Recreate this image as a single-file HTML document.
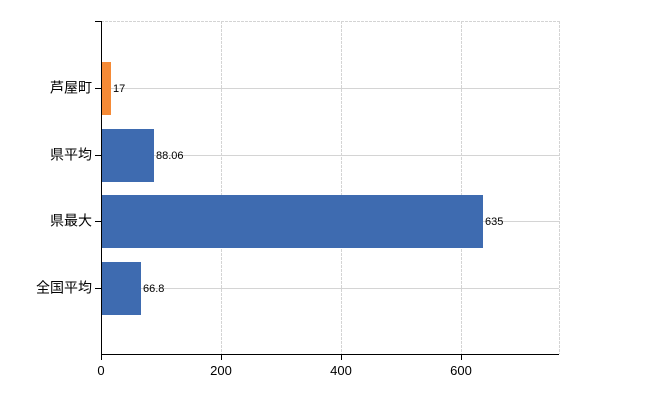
<!DOCTYPE html><html><head><style>body{margin:0;background:#fff}svg{font-family:"Liberation Sans","Noto Sans CJK JP",sans-serif}</style></head><body>
<svg width="650" height="400" xmlns="http://www.w3.org/2000/svg">
<g stroke="#d4d4d4" stroke-width="1">
<line x1="101" y1="21.5" x2="559" y2="21.5" stroke-dasharray="3,1"/>
<line x1="101" y1="88.5" x2="559" y2="88.5"/>
<line x1="101" y1="155.5" x2="559" y2="155.5"/>
<line x1="101" y1="221.5" x2="559" y2="221.5"/>
<line x1="101" y1="288.5" x2="559" y2="288.5"/>
<line x1="221.5" y1="21" x2="221.5" y2="354" stroke-dasharray="3,1"/>
<line x1="341.5" y1="21" x2="341.5" y2="354" stroke-dasharray="3,1"/>
<line x1="461.5" y1="21" x2="461.5" y2="354" stroke-dasharray="3,1"/>
<line x1="559.5" y1="21" x2="559.5" y2="354" stroke-dasharray="3,1"/>
</g>
<rect x="101" y="62" width="10" height="53" fill="#f58a36"/>
<rect x="101" y="129" width="53" height="53" fill="#3e6bb0"/>
<rect x="101" y="195" width="382" height="53" fill="#3e6bb0"/>
<rect x="101" y="262" width="40" height="53" fill="#3e6bb0"/>
<g font-size="11" fill="#000" dominant-baseline="middle">
<text x="113" y="89">17</text>
<text x="156" y="156">88.06</text>
<text x="485" y="222">635</text>
<text x="143" y="289">66.8</text>
</g>
<g stroke="#000" stroke-width="1">
<line x1="101.5" y1="21" x2="101.5" y2="354"/>
<line x1="101" y1="354.5" x2="559" y2="354.5"/>
<line x1="95" y1="21.5" x2="101" y2="21.5"/>
<line x1="95" y1="88.5" x2="101" y2="88.5"/>
<line x1="95" y1="155.5" x2="101" y2="155.5"/>
<line x1="95" y1="221.5" x2="101" y2="221.5"/>
<line x1="95" y1="288.5" x2="101" y2="288.5"/>
<line x1="101.5" y1="354" x2="101.5" y2="360"/>
<line x1="221.5" y1="354" x2="221.5" y2="360"/>
<line x1="341.5" y1="354" x2="341.5" y2="360"/>
<line x1="461.5" y1="354" x2="461.5" y2="360"/>
</g>
<g font-size="14" fill="#000" text-anchor="end" dominant-baseline="middle">
<text x="92" y="89">芦屋町</text>
<text x="92" y="156">県平均</text>
<text x="92" y="222">県最大</text>
<text x="92" y="289">全国平均</text>
</g>
<g font-size="13" fill="#000" text-anchor="middle">
<text x="101" y="375">0</text>
<text x="221" y="375">200</text>
<text x="341" y="375">400</text>
<text x="461" y="375">600</text>
</g>
</svg></body></html>
